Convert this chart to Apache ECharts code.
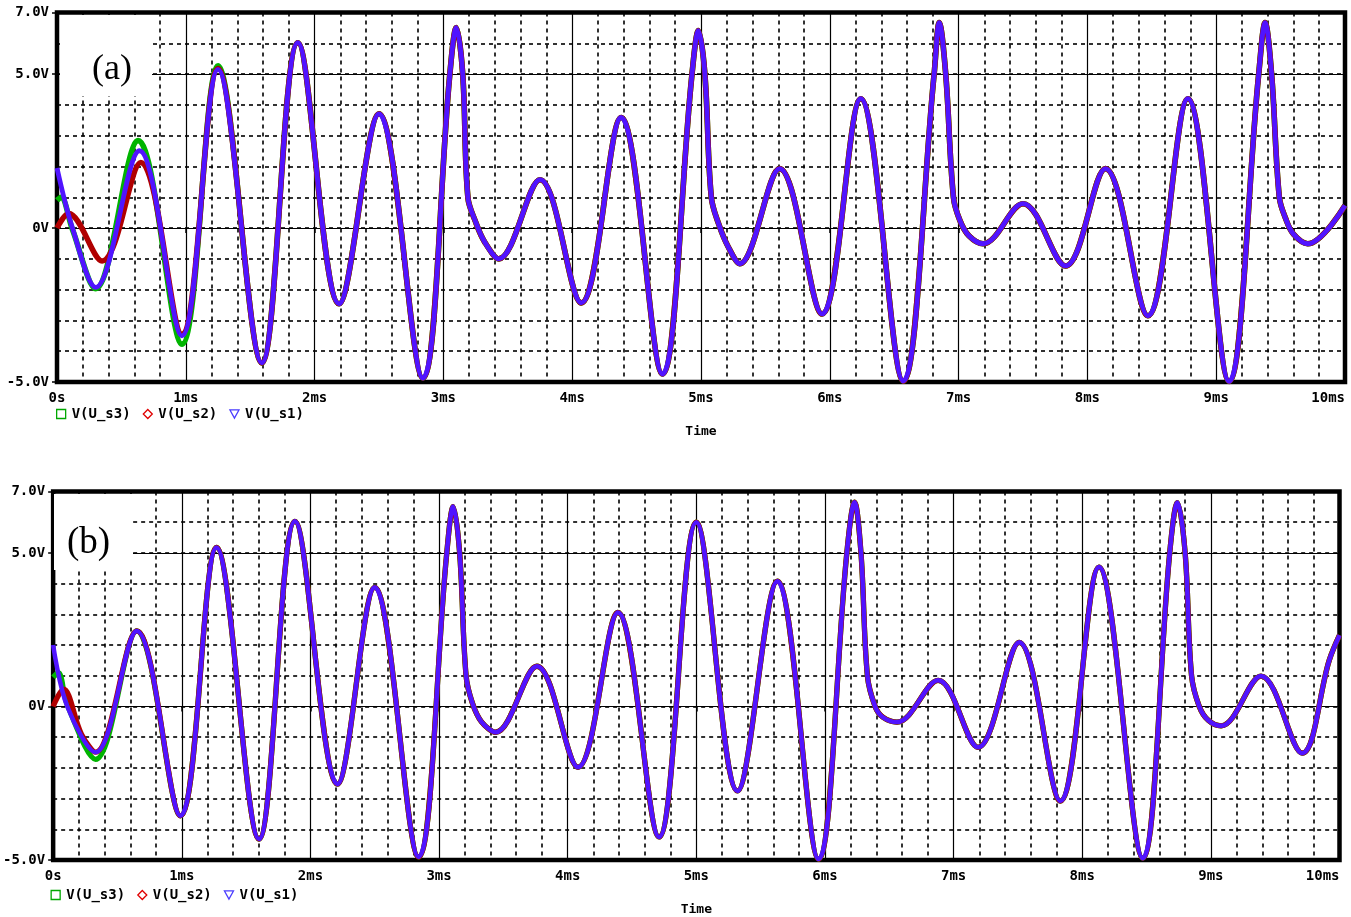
<!DOCTYPE html>
<html>
<head>
<meta charset="utf-8">
<title>V(U_s1), V(U_s2), V(U_s3) vs Time</title>
<script src="https://cdn.jsdelivr.net/npm/echarts@6/dist/echarts.min.js"></script>
<style>
  html, body { margin: 0; padding: 0; background: #fff; }
  #chart { width: 1351px; height: 917px; }
</style>
</head>
<body>
<div id="chart"></div>
<script>
// Time in ms, voltage in V. Turning points of each trace, plus a few
// extra points where a fast peak flattens into a shoulder.

// Panel (a): node voltage U_s1 over the whole run
const s1A = [
  [0.00, 1.95], [0.12, 0.0], [0.30, -1.93], [0.64, 2.51], [0.97, -3.50], [1.25, 5.15],
  [1.59, -4.38], [1.87, 6.02], [2.19, -2.46], [2.50, 3.71], [2.84, -4.87],
  [3.05, 5.0], [3.10, 6.51], [3.15, 5.0], [3.19, 1.0], [3.25, 0.2], [3.32, -0.45], [3.43, -1.00],
  [3.75, 1.57], [4.07, -2.43], [4.38, 3.59], [4.70, -4.74],
  [4.93, 5.0], [4.98, 6.41], [5.03, 5.0], [5.08, 1.0], [5.14, 0.1], [5.21, -0.6], [5.30, -1.16],
  [5.61, 1.93], [5.94, -2.79], [6.24, 4.20], [6.57, -4.97],
  [6.81, 5.0], [6.85, 6.67], [6.90, 5.0], [6.96, 1.0], [7.01, 0.25], [7.08, -0.25], [7.19, -0.51],
  [7.50, 0.79], [7.83, -1.23], [8.14, 1.93], [8.47, -2.85], [8.78, 4.20], [9.10, -4.98],
  [9.33, 5.0], [9.38, 6.67], [9.43, 5.0], [9.49, 1.0], [9.54, 0.3], [9.60, -0.2], [9.71, -0.51],
  [10.00, 0.73]
];
// Panel (a): start-up of U_s2 and U_s3 before they lock onto U_s1
const s2AStart = [[0.00, 0.0], [0.09, 0.47], [0.35, -1.07], [0.65, 2.13], [0.97, -3.45], [1.25, 5.18]];
const s3AStart = [[0.00, 0.9], [0.03, 1.0], [0.12, -0.05], [0.30, -1.97], [0.63, 2.84], [0.97, -3.77], [1.25, 5.27]];

// Panel (b): node voltage U_s1 over the whole run
const s1B = [
  [0.00, 2.0], [0.11, 0.0], [0.33, -1.49], [0.65, 2.46], [0.99, -3.56], [1.27, 5.18],
  [1.60, -4.32], [1.88, 6.03], [2.21, -2.53], [2.50, 3.88], [2.84, -4.90],
  [3.06, 5.0], [3.11, 6.51], [3.16, 5.0], [3.21, 1.0], [3.26, 0.1], [3.33, -0.5], [3.44, -0.84],
  [3.76, 1.31], [4.08, -1.98], [4.39, 3.06], [4.71, -4.25], [5.00, 6.0], [5.32, -2.75],
  [5.63, 4.08], [5.95, -4.97],
  [6.17, 5.0], [6.23, 6.65], [6.28, 5.0], [6.33, 1.0], [6.39, 0.0], [6.45, -0.35], [6.56, -0.51],
  [6.88, 0.85], [7.19, -1.33], [7.51, 2.09], [7.83, -3.08], [8.13, 4.54], [8.47, -4.94],
  [8.68, 5.0], [8.74, 6.64], [8.80, 5.0], [8.85, 1.0], [8.91, 0.0], [8.98, -0.45], [9.08, -0.63],
  [9.39, 0.99], [9.71, -1.52], [9.92, 1.5], [10.00, 2.32]
];
// Panel (b): start-up of U_s2 and U_s3
const s2BStart = [[0.00, 0.0], [0.08, 0.56], [0.22, -0.9], [0.33, -1.49]];
const s3BStart = [[0.00, 0.95], [0.04, 1.1], [0.11, 0.05], [0.33, -1.72]];

// Axis ticks
const timeTicks = [0, 1, 2, 3, 4, 5, 6, 7, 8, 9, 10];
const voltTicks = [-5, 0, 5, 7];
const seriesNames = ['V(U_s3)', 'V(U_s2)', 'V(U_s1)'];

// After its start-up part, a trace follows U_s1
function withTail(start, full) {
  const last = start[start.length - 1][0];
  return start.concat(full.filter(p => p[0] > last));
}

const traceColors = { 'V(U_s3)': '#00b400', 'V(U_s2)': '#b00000', 'V(U_s1)': '#5014ff' };
const markColors  = { 'V(U_s3)': '#00a800', 'V(U_s2)': '#e00000', 'V(U_s1)': '#4a3cff' };
const markIcons = {
  'V(U_s3)': 'rect',
  'V(U_s2)': 'diamond',
  'V(U_s1)': 'path://M0,0 L10,0 L5,9 Z'
};

const monoFont = { fontFamily: '"DejaVu Sans Mono", monospace', fontWeight: 'bold', fontSize: 14, color: '#000' };

const panels = [
  { grid: { left: 57, top: 12.5, width: 1288, height: 369.5 }, legendTop: 407, tag: '(a)',
    box: { x: 60, y: 15, w: 92, h: 81 }, tagPos: [112, 70], tagSize: 36, width: 4.8,
    data: { 'V(U_s3)': withTail(s3AStart, s1A), 'V(U_s2)': withTail(s2AStart, s1A), 'V(U_s1)': s1A } },
  { grid: { left: 51.5, top: 491.5, width: 1288, height: 370 }, legendTop: 888, tag: '(b)',
    box: { x: 54, y: 494, w: 79, h: 76 }, tagPos: [88.5, 543], tagSize: 37, width: 4.5,
    data: { 'V(U_s3)': withTail(s3BStart, s1B), 'V(U_s2)': withTail(s2BStart, s1B), 'V(U_s1)': s1B } }
];

const option = {
  animation: false,
  backgroundColor: '#fff',
  grid: [], xAxis: [], yAxis: [], series: [], legend: [], graphic: []
};

panels.forEach((p, i) => {
  option.grid.push(Object.assign({
    show: true, borderColor: '#000', borderWidth: 4.5, backgroundColor: '#fff', containLabel: false
  }, p.grid));

  // Time axis: solid lines every 1 ms, dashed every 0.2 ms
  option.xAxis.push({
    type: 'value', gridIndex: i, min: timeTicks[0], max: timeTicks[timeTicks.length - 1], interval: 1,
    axisLine: { show: false },
    axisTick: { show: true, length: 5, lineStyle: { color: '#000', width: 1.5 } },
    axisLabel: Object.assign({
      margin: 9, alignMaxLabel: 'right',
      formatter: v => (v === 0 ? '0s' : v + 'ms')
    }, monoFont),
    splitLine: { show: true, lineStyle: { color: '#000', width: 1.2 } },
    minorTick: { show: false, splitNumber: 5 },
    minorSplitLine: { show: true, lineStyle: { color: '#000', width: 1.6, type: [4, 4] } },
    name: 'Time', nameLocation: 'middle', nameGap: 43,
    nameTextStyle: Object.assign({}, monoFont, { fontSize: 13 })
  });

  // Voltage axis with labels and solid lines at -5, 0, 5 V
  option.yAxis.push({
    type: 'value', gridIndex: i, min: -5, max: 7, interval: 5,
    axisLine: { show: false },
    axisTick: { show: true, length: 5, lineStyle: { color: '#000', width: 1.5 } },
    axisLabel: Object.assign({
      margin: 8,
      formatter: v => (voltTicks.indexOf(v) < 0 ? '' : (v === 0 ? '0V' : v.toFixed(1) + 'V'))
    }, monoFont),
    splitLine: { show: true, lineStyle: { color: '#000', width: 1.2 } }
  });
  // Dashed 1 V grid
  option.yAxis.push({
    type: 'value', gridIndex: i, min: -5, max: 7, interval: 1, position: 'left',
    axisLine: { show: false }, axisTick: { show: false }, axisLabel: { show: false },
    splitLine: { show: true, lineStyle: { color: '#000', width: 1.6, type: [4, 4] } }
  });

  seriesNames.forEach(name => {
    option.series.push({
      type: 'line', name: name, xAxisIndex: i, yAxisIndex: i * 2,
      data: p.data[name], showSymbol: false, symbol: 'none', smooth: 0.36,
      clip: true, z: 3,
      lineStyle: { color: traceColors[name], width: name === 'V(U_s1)' ? p.width : p.width + 0.8 },
      itemStyle: { color: traceColors[name] }
    });
  });

  option.legend.push({
    left: p.grid.left - 1, top: p.legendTop, orient: 'horizontal',
    itemWidth: 9, itemHeight: 9, itemGap: 12, padding: 0, selectedMode: false,
    textStyle: Object.assign({ padding: [0, 0, 0, 1] }, monoFont),
    lineStyle: { width: 0, opacity: 0 },
    data: seriesNames.map(name => ({
      name: name, icon: markIcons[name],
      itemStyle: { color: 'rgba(0,0,0,0)', borderColor: markColors[name], borderWidth: 1.3 }
    }))
  });

  option.graphic.push({
    type: 'rect', z: 20, silent: true,
    shape: { x: p.box.x, y: p.box.y, width: p.box.w, height: p.box.h },
    style: { fill: '#fff' }
  });
  option.graphic.push({
    type: 'text', z: 21, silent: true, x: p.tagPos[0], y: p.tagPos[1],
    style: {
      text: p.tag, fill: '#000', align: 'center', verticalAlign: 'middle',
      font: p.tagSize + 'px "Liberation Serif", "Times New Roman", serif'
    }
  });
});

const chart = echarts.init(document.getElementById('chart'), null, { renderer: 'canvas' });
chart.setOption(option);
</script>
</body>
</html>
